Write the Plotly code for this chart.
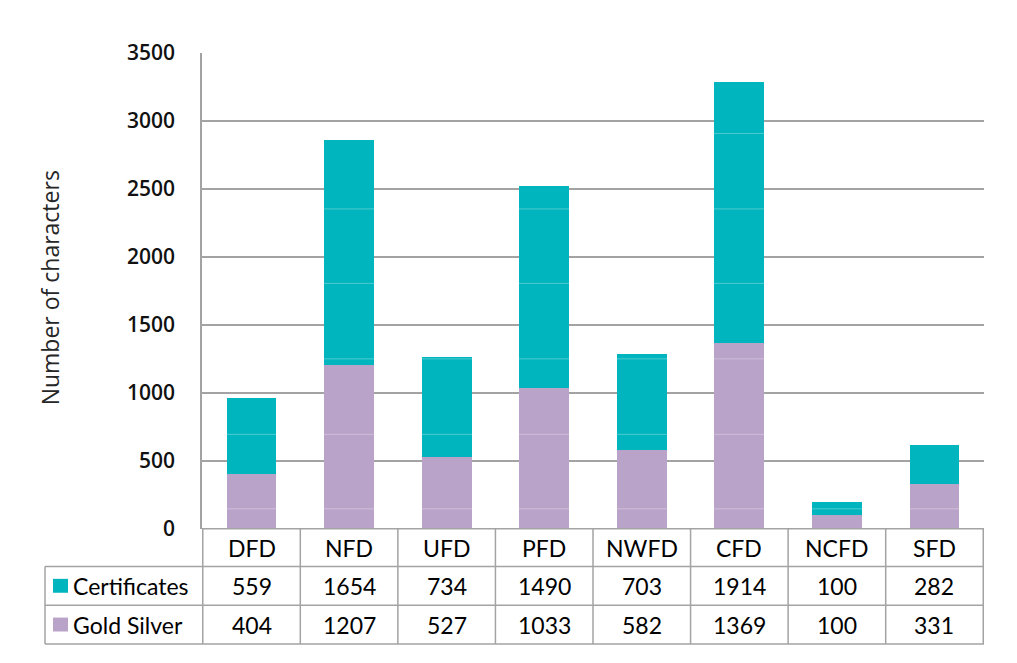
import plotly.graph_objects as go

categories = ["DFD", "NFD", "UFD", "PFD", "NWFD", "CFD", "NCFD", "SFD"]
certificates = [559, 1654, 734, 1490, 703, 1914, 100, 282]
gold_silver = [404, 1207, 527, 1033, 582, 1369, 100, 331]
series_names = ["Certificates", "Gold Silver"]
y_ticks = [0, 500, 1000, 1500, 2000, 2500, 3000, 3500]

W, H = 1017, 663
TEAL = "#00B5BD"
PURPLE = "#B9A3C9"
GRID = "#A3A3A3"
TABLE_FONT = "Lato"
TICK_FONT = "Open Sans"
TITLE_FONT = "Open Sans"

# map reference-pixel positions to paper coordinates
def px(x):
    return (x - 8) / W

def py(y):
    return 1 - (y - 19.8) / 639.4

# layout constants (reference pixels)
PL, PR, PT, PB = 202, 984, 50, 529
ROWS = [529, 567, 606, 645]
TL = 45
ARTIFACT_ROWS = [131, 207, 282, 358, 434, 509]  # faint light streaks seen across bars

fig = go.Figure()
fig.add_trace(go.Bar(x=categories, y=gold_silver, name=series_names[1],
                     marker=dict(color=PURPLE, line=dict(width=0))))
fig.add_trace(go.Bar(x=categories, y=certificates, name=series_names[0],
                     marker=dict(color=TEAL, line=dict(width=0))))

shapes = []
annotations = []
line = dict(color=GRID, width=1.5)

# horizontal table lines
shapes.append(dict(type="line", xref="paper", yref="paper",
                   x0=px(PL), x1=px(PR), y0=py(ROWS[0]), y1=py(ROWS[0]), line=line))
for r in ROWS[1:]:
    shapes.append(dict(type="line", xref="paper", yref="paper",
                       x0=px(TL), x1=px(PR), y0=py(r), y1=py(r), line=line))
# left edge of row-label column
shapes.append(dict(type="line", xref="paper", yref="paper",
                   x0=px(TL), x1=px(TL), y0=py(ROWS[1]), y1=py(ROWS[3]), line=line))
# vertical dividers at category boundaries
for i in range(len(categories) + 1):
    shapes.append(dict(type="line", xref="x", yref="paper",
                       x0=i - 0.5, x1=i - 0.5, y0=py(ROWS[0]), y1=py(ROWS[3]), line=line))

# faint light streaks across the bars
for r in ARTIFACT_ROWS:
    shapes.append(dict(type="line", xref="paper", yref="paper", layer="above",
                       x0=px(PL + 2), x1=px(PR), y0=py(r), y1=py(r),
                       line=dict(color="rgba(255,255,255,0.3)", width=1)))

tfont = dict(family=TABLE_FONT, size=23, color="#000000")
# header row
for c in categories:
    annotations.append(dict(x=c, xref="x", y=py((ROWS[0] + ROWS[1]) / 2), yref="paper",
                            text=c, showarrow=False, font=tfont, yanchor="middle"))
# value rows
row_data = [(series_names[0], certificates, TEAL), (series_names[1], gold_silver, PURPLE)]
for k, (name, vals, col) in enumerate(row_data):
    yc = (ROWS[k + 1] + ROWS[k + 2]) / 2
    for c, v in zip(categories, vals):
        annotations.append(dict(x=c, xref="x", y=py(yc), yref="paper", text=str(v),
                                showarrow=False, font=tfont, yanchor="middle"))
    annotations.append(dict(x=px(71), xref="paper", y=py(yc), yref="paper", text=name,
                            showarrow=False, font=tfont, xanchor="left", yanchor="middle"))
    shapes.append(dict(type="rect", xref="paper", yref="paper",
                       x0=px(53), x1=px(68), y0=py(yc - 7), y1=py(yc + 7),
                       fillcolor=col, line=dict(width=0)))

annotations.append(dict(x=px(50), xref="paper", y=py(287), yref="paper",
                        text="Number of characters", textangle=-90, showarrow=False,
                        font=dict(family=TITLE_FONT, size=23, color="#262626"),
                        xanchor="center", yanchor="middle"))

fig.update_layout(
    width=W, height=H,
    margin=dict(l=0, r=0, t=0, b=0),
    barmode="stack", bargap=0.49,
    showlegend=False,
    plot_bgcolor="white", paper_bgcolor="white",
    shapes=shapes, annotations=annotations,
    xaxis=dict(domain=[px(PL), px(PR)], showticklabels=False, ticks="",
               showgrid=False, showline=False, zeroline=False),
    yaxis=dict(domain=[py(PB), py(PT)], range=[0, 3500], tickvals=y_ticks,
               ticks="", ticklabelstandoff=21, showgrid=True, gridcolor=GRID,
               gridwidth=1.5, showline=True, linecolor=GRID, linewidth=1.5,
               zeroline=False,
               tickfont=dict(family=TICK_FONT, size=21, color="#111111", weight=600)),
)

fig.write_html("out.html")
